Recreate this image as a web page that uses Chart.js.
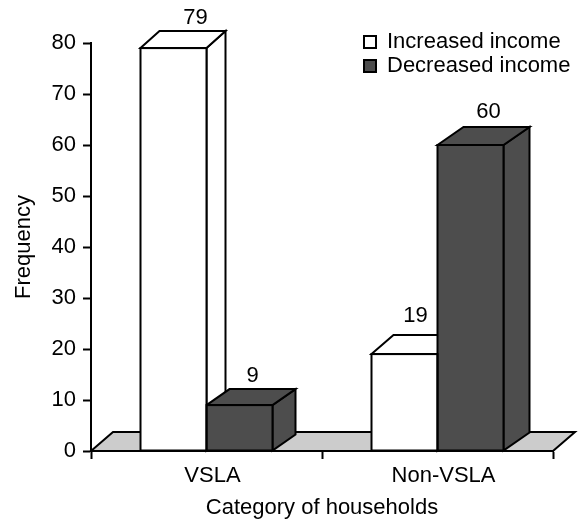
<!DOCTYPE html>
<html>
<head>
<meta charset="utf-8">
<style>html,body{margin:0;padding:0;background:#fff}canvas{display:block}</style>
<script src="https://cdn.jsdelivr.net/npm/chart.js@4/dist/chart.umd.min.js"></script>
</head>
<body>
<canvas id="c" width="581" height="521"></canvas>
<script>
const categories = ["VSLA", "Non-VSLA"];
const seriesNames = ["Increased income", "Decreased income"];
const increasedIncome = [79, 19];
const decreasedIncome = [9, 60];
const yTicks = [0, 10, 20, 30, 40, 50, 60, 70, 80];

// styling of the 3D look: [dataset][category]
const depthX = [[19, 22], [23, 26]];
const depthY = [[17, 19], [16, 18]];
const labelDX = [[22, 11], [13, 18]];
const labelDY = [[30, 38], [29, 33]];
const WHITE = "#ffffff", DARK = "#4d4d4d", FLOOR = "#cccccc", INK = "#000000";
const FONT = "'Liberation Sans', Arial, sans-serif";
const FS = 22;

function poly(ctx, pts, fill) {
  ctx.beginPath();
  pts.forEach((p, i) => i ? ctx.lineTo(p[0], p[1]) : ctx.moveTo(p[0], p[1]));
  ctx.closePath();
  ctx.fillStyle = fill;
  ctx.fill();
  ctx.stroke();
}

const bars3d = {
  id: "bars3d",
  afterLayout(chart) {
    const lg = chart.legend;
    const w = lg.width, h = lg.height;
    lg.left = 362; lg.top = 29; lg.right = lg.left + w; lg.bottom = lg.top + h;
  },
  beforeDatasetsDraw(chart) {
    const ctx = chart.ctx, a = chart.chartArea;
    ctx.save();
    ctx.strokeStyle = INK; ctx.lineWidth = 2; ctx.lineJoin = "miter";
    const fdx = 22, fdy = 19;
    poly(ctx, [[a.left, a.bottom], [a.left + fdx, a.bottom - fdy], [a.right + fdx, a.bottom - fdy], [a.right, a.bottom]], FLOOR);
    chart.data.datasets.forEach((ds, d) => {
      chart.getDatasetMeta(d).data.forEach((el, c) => {
        const l = el.x - el.width / 2, r = el.x + el.width / 2, t = el.y, b = el.base;
        const dx = depthX[d][c], dy = depthY[d][c];
        poly(ctx, [[r, t], [r + dx, t - dy], [r + dx, b - dy], [r, b]], ds.backgroundColor);
        poly(ctx, [[l, t], [l + dx, t - dy], [r + dx, t - dy], [r, t]], ds.backgroundColor);
      });
    });
    ctx.restore();
  },
  afterDatasetsDraw(chart) {
    const ctx = chart.ctx;
    ctx.save();
    ctx.strokeStyle = INK; ctx.lineWidth = 2;
    chart.data.datasets.forEach((ds, d) => {
      chart.getDatasetMeta(d).data.forEach((el, c) => {
        const l = el.x - el.width / 2;
        ctx.strokeRect(l, el.y, el.width, el.base - el.y);
        ctx.fillStyle = INK;
        ctx.font = FS + "px " + FONT;
        ctx.textAlign = "center";
        ctx.textBaseline = "middle";
        ctx.fillText(String(ds.data[c]), el.x + labelDX[d][c], el.y - labelDY[d][c]);
      });
    });
    ctx.restore();
  }
};

new Chart(document.getElementById("c"), {
  type: "bar",
  data: {
    labels: categories,
    datasets: [
      { label: seriesNames[0], data: increasedIncome, backgroundColor: WHITE, borderWidth: 0 },
      { label: seriesNames[1], data: decreasedIncome, backgroundColor: DARK, borderWidth: 0 }
    ]
  },
  options: {
    responsive: false,
    animation: false,
    layout: { padding: { top: 43, right: 28, bottom: 0, left: 0 } },
    datasets: { bar: { categoryPercentage: 132 / 231, barPercentage: 1 } },
    plugins: {
      tooltip: { enabled: false },
      legend: {
        position: "chartArea",
        align: "start",
        labels: {
          boxWidth: 12, boxHeight: 12, padding: 2, color: INK,
          font: { family: FONT, size: FS },
          generateLabels(chart) {
            return chart.data.datasets.map((ds, i) => ({
              text: ds.label, fillStyle: ds.backgroundColor, strokeStyle: INK, lineWidth: 2,
              fontColor: INK, hidden: false, datasetIndex: i
            }));
          }
        }
      }
    },
    scales: {
      x: {
        afterFit(s) { s.height = 70; },
        grid: { offset: true, drawOnChartArea: false, drawTicks: true, tickLength: 8, tickWidth: 2, tickColor: INK },
        border: { color: INK, width: 2 },
        ticks: { color: INK, font: { family: FONT, size: FS }, padding: 4, labelOffset: 6, maxRotation: 0, autoSkip: false },
        title: { display: true, text: "Category of households", color: INK, font: { family: FONT, size: FS }, padding: 0 }
      },
      y: {
        min: yTicks[0],
        max: yTicks[yTicks.length - 1],
        afterFit(s) { s.width = 91; },
        afterBuildTicks(s) { s.ticks = yTicks.map(v => ({ value: v })); },
        grid: { drawOnChartArea: false, drawTicks: true, tickLength: 8, tickWidth: 2, tickColor: INK },
        border: { color: INK, width: 2 },
        ticks: { color: INK, font: { family: FONT, size: FS }, padding: 7 },
        title: { display: true, text: "Frequency", color: INK, font: { family: FONT, size: FS }, padding: { top: 11, bottom: 0 } }
      }
    }
  },
  plugins: [bars3d]
});
</script>
</body>
</html>
